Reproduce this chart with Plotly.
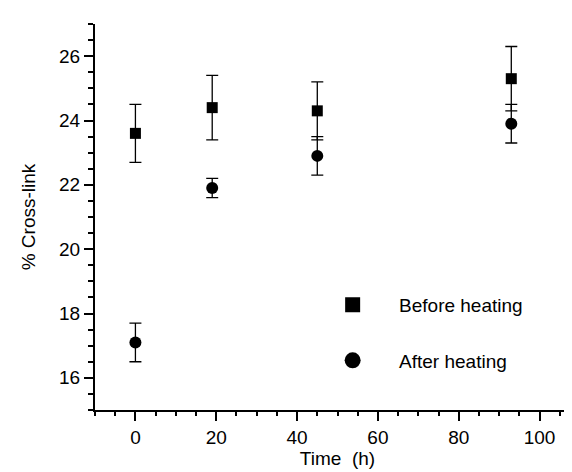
import plotly.graph_objects as go

time_h = [0, 19, 45, 93]
before_heating = [23.6, 24.4, 24.3, 25.3]
before_err = [0.9, 1.0, 0.9, 1.0]
after_heating = [17.1, 21.9, 22.9, 23.9]
after_err = [0.6, 0.3, 0.6, 0.6]

FONT = "Liberation Sans, Arial, sans-serif"
pad = "\u00a0" * 5

fig = go.Figure()
fig.add_trace(go.Scatter(
    x=time_h, y=before_heating, mode="markers", showlegend=False,
    marker=dict(symbol="square", size=11, color="black"),
    error_y=dict(type="data", array=before_err, visible=True, color="black", thickness=1.3, width=6),
))
fig.add_trace(go.Scatter(
    x=time_h, y=after_heating, mode="markers", showlegend=False,
    marker=dict(symbol="circle", size=12, color="black"),
    error_y=dict(type="data", array=after_err, visible=True, color="black", thickness=1.3, width=6),
))
# legend entries
fig.add_trace(go.Scatter(
    x=[None], y=[None], mode="markers", name=pad + "Before heating", legendgroup="a",
    marker=dict(symbol="square", size=15, color="black"),
))
fig.add_trace(go.Scatter(
    x=[None], y=[None], mode="markers", name=pad + "After heating", legendgroup="b",
    marker=dict(symbol="circle", size=16, color="black"),
))

axis_common = dict(
    showline=True, linewidth=2, linecolor="black", mirror=False,
    showgrid=False, zeroline=False,
    ticks="outside", ticklen=9, tickwidth=2, tickcolor="black",
    tickfont=dict(family=FONT, size=19, color="black"),
)

fig.update_xaxes(
    range=[-10, 110], tickvals=[0, 20, 40, 60, 80, 100],
    minor=dict(dtick=5, tick0=0, ticks="outside", ticklen=4, tickwidth=2, tickcolor="black"),
    title=dict(text="Time\u00a0\u00a0(h)", font=dict(family=FONT, size=19, color="black"), standoff=4),
    **axis_common,
)
fig.update_yaxes(
    range=[15, 27], tickvals=[16, 18, 20, 22, 24, 26],
    minor=dict(dtick=0.5, tick0=15, ticks="outside", ticklen=5, tickwidth=2, tickcolor="black"),
    title=dict(text="% Cross-link", font=dict(family=FONT, size=19, color="black"), standoff=18),
    **axis_common,
)

fig.update_layout(
    width=572, height=472,
    margin=dict(l=87, r=0, t=16, b=70),
    paper_bgcolor="white", plot_bgcolor="white",
    font=dict(family=FONT, size=19, color="black"),
    legend=dict(
        x=0.49, y=0.2, xanchor="left", yanchor="middle",
        bgcolor="rgba(0,0,0,0)", borderwidth=0,
        traceorder="grouped", tracegroupgap=28,
        font=dict(family=FONT, size=19, color="black"),
    ),
)

fig.write_html("out.html")
